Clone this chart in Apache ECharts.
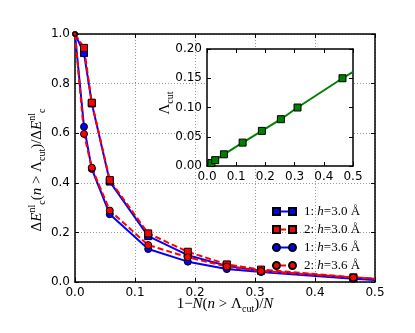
<!DOCTYPE html>
<html>
<head>
<meta charset="utf-8">
<script src="https://cdn.jsdelivr.net/npm/echarts@6/dist/echarts.min.js"></script>
<style>
html, body { margin: 0; padding: 0; background: #fff; }
#chart { width: 415px; height: 333px; }
</style>
</head>
<body>
<div id="chart"></div>
<script>
// 横轴: 1 - N(n > cut)/N
const xFrac = [0, 0.015, 0.028, 0.058, 0.122, 0.188, 0.253, 0.31, 0.464, 0.5]
const sq1 = [1.0, 0.923, 0.720, 0.405, 0.185, 0.108, 0.065, 0.045, 0.015, 0.010] // 1: h=3.0
const sq2 = [1.0, 0.944, 0.723, 0.411, 0.196, 0.122, 0.071, 0.050, 0.019, 0.014] // 2: h=3.0
const ci1 = [1.0, 0.626, 0.456, 0.273, 0.133, 0.082, 0.052, 0.040, 0.013, 0.008] // 1: h=3.6
const ci2 = [1.0, 0.597, 0.461, 0.288, 0.149, 0.100, 0.062, 0.044, 0.018, 0.013] // 2: h=3.6
const seriesNames = ['1: h=3.0 Å', '2: h=3.0 Å', '1: h=3.6 Å', '2: h=3.6 Å']

// 插图: Lambda_cut
const insetX = [0.015, 0.028, 0.058, 0.122, 0.188, 0.253, 0.31, 0.464, 0.5]
const lambdaCut = [0.005, 0.010, 0.020, 0.040, 0.060, 0.080, 0.100, 0.150, 0.161]

const mainXLabels = ['0.0', '0.1', '0.2', '0.3', '0.4', '0.5']
const mainYLabels = ['0.0', '0.2', '0.4', '0.6', '0.8', '1.0']
const insetXLabels = ['0.0', '0.1', '0.2', '0.3', '0.4', '0.5']
const insetYLabels = ['0.00', '0.05', '0.10', '0.15', '0.20']

const BLUE = '#0000ff'
const RED = '#ff0000'
const GREEN = '#008000'
const tickFont = { fontFamily: 'DejaVu Sans', fontSize: 12, color: '#000' }
const mathRich = {
  m: { fontFamily: 'Liberation Serif', fontSize: 15, lineHeight: 20, color: '#000' },
  i: { fontFamily: 'Liberation Serif', fontStyle: 'italic', fontSize: 15, lineHeight: 20, color: '#000' },
  sup: { fontFamily: 'Liberation Serif', fontSize: 10, lineHeight: 10, verticalAlign: 'top', color: '#000' },
  sub: { fontFamily: 'Liberation Serif', fontSize: 10, lineHeight: 10, verticalAlign: 'bottom', color: '#000' }
}

function symSize(v) { // 端点: 0处被裁剪, 0.5处不画
  if (v[0] === 0) return 4
  if (v[0] >= 0.5) return 0
  return 7
}

function mainSeries(name, ys, color, symbol, dashed) {
  return {
    type: 'line',
    name: name,
    xAxisIndex: 0,
    yAxisIndex: 0,
    data: xFrac.map((x, i) => [x, ys[i]]),
    symbol: symbol,
    symbolSize: symSize,
    showAllSymbol: true,
    silent: true,
    itemStyle: { color: color, borderColor: '#000', borderWidth: 1 },
    lineStyle: { color: color, width: 2, type: dashed ? [6, 3] : 'solid' },
    z: 2
  }
}

function axisCommon(min, max, interval, labels, show, step) {
  return {
    type: 'value',
    min: min,
    max: max,
    interval: interval,
    axisLine: { show: true, onZero: false, lineStyle: { color: '#000', width: 1.5 } },
    axisTick: { show: true, inside: true, length: 4, lineStyle: { color: '#000', width: 1 } },
    axisLabel: show ? Object.assign({ margin: 5, formatter: v => labels[Math.round(v / step)] }, tickFont) : { show: false },
    splitLine: { show: false }
  }
}

const circlePath = 'path://M0,3.5a3.5,3.5 0 1,0 7,0a3.5,3.5 0 1,0 -7,0zM16,3.5a3.5,3.5 0 1,0 7,0a3.5,3.5 0 1,0 -7,0z'
const squarePath = 'path://M0,0h7v7h-7zM16,0h7v7h-7z'
const solidPath = 'path://M0,0L0,0ZM23,7L23,7ZM0,2.5h23v2h-23z'
const dashPath = 'path://M0,0L0,0ZM23,7L23,7ZM0,2.5h5v2h-5zM9,2.5h5v2h-5zM18,2.5h5v2h-5z'

function legendText(name) {
  const p = name.split('h')
  return '{t|' + p[0] + '}{i|h}{t|' + p[1] + '}'
}
function legendBase(textColor) {
  return {
    orient: 'vertical',
    left: 272,
    top: 205,
    padding: 0,
    itemWidth: 23,
    itemHeight: 7,
    itemGap: 5,
    selectedMode: false,
    formatter: legendText,
    textStyle: {
      color: textColor,
      padding: [0, 0, 0, 3],
      rich: {
        t: { fontFamily: 'Liberation Serif', fontSize: 13, lineHeight: 14, color: textColor },
        i: { fontFamily: 'Liberation Serif', fontStyle: 'italic', fontSize: 13, lineHeight: 14, color: textColor }
      }
    }
  }
}

const chart = echarts.init(document.getElementById('chart'))

const legendLines = Object.assign(legendBase('rgba(0,0,0,0)'), {
  itemStyle: { borderWidth: 0 },
  data: [
    { name: seriesNames[0], icon: solidPath },
    { name: seriesNames[1], icon: dashPath },
    { name: seriesNames[2], icon: solidPath },
    { name: seriesNames[3], icon: dashPath }
  ],
  z: 5
})
const legendMarks = Object.assign(legendBase('#000'), {
  data: [
    { name: seriesNames[0], icon: squarePath },
    { name: seriesNames[1], icon: squarePath },
    { name: seriesNames[2], icon: circlePath },
    { name: seriesNames[3], icon: circlePath }
  ],
  z: 6
})

const option = {
  animation: false,
  backgroundColor: '#fff',
  grid: [
    { left: 75, top: 34, width: 300, height: 248, show: false },
    { left: 207, top: 49, width: 146, height: 117, show: true, backgroundColor: '#fff', borderWidth: 0, z: 3 }
  ],
  xAxis: [
    Object.assign(axisCommon(0, 0.5, 0.1, mainXLabels, true, 0.1), {
      gridIndex: 0, position: 'bottom',
      splitLine: { show: true, lineStyle: { color: '#999', type: [1, 2], width: 1 } }
    }),
    Object.assign(axisCommon(0, 0.5, 0.1, null, false), { gridIndex: 0, position: 'top' }),
    Object.assign(axisCommon(0, 0.5, 0.1, insetXLabels, true, 0.1), { gridIndex: 1, position: 'bottom', z: 4 }),
    Object.assign(axisCommon(0, 0.5, 0.1, null, false), { gridIndex: 1, position: 'top', z: 4 })
  ],
  yAxis: [
    Object.assign(axisCommon(0, 1.0, 0.2, mainYLabels, true, 0.2), {
      gridIndex: 0, position: 'left',
      splitLine: { show: true, lineStyle: { color: '#999', type: [1, 2], width: 1 } }
    }),
    Object.assign(axisCommon(0, 1.0, 0.2, null, false), { gridIndex: 0, position: 'right' }),
    Object.assign(axisCommon(0, 0.2, 0.05, insetYLabels, true, 0.05), { gridIndex: 1, position: 'left', z: 4 }),
    Object.assign(axisCommon(0, 0.2, 0.05, null, false), { gridIndex: 1, position: 'right', z: 4 })
  ],
  legend: [legendLines, legendMarks],
  series: [
    mainSeries(seriesNames[0], sq1, BLUE, 'rect', false),
    mainSeries(seriesNames[1], sq2, RED, 'rect', true),
    mainSeries(seriesNames[2], ci1, BLUE, 'circle', false),
    mainSeries(seriesNames[3], ci2, RED, 'circle', true),
    {
      type: 'line',
      name: 'lambda',
      xAxisIndex: 2,
      yAxisIndex: 2,
      data: insetX.map((x, i) => [x, lambdaCut[i]]),
      symbol: 'rect',
      symbolSize: symSize,
      showAllSymbol: true,
      silent: true,
      itemStyle: { color: GREEN, borderColor: '#000', borderWidth: 1 },
      lineStyle: { color: GREEN, width: 2 },
      z: 5
    }
  ],
  graphic: [
    { // y轴标题
      type: 'text', x: 37, y: 170, rotation: Math.PI / 2,
      style: {
        text: '{m|Δ}{i|E}{sup|nl}{sub|c}{m|(}{i|n}{m| > Λ}{sub|cut}{m|)/Δ}{i|E}{sup|nl}{sub|c}',
        rich: mathRich, align: 'center', verticalAlign: 'middle'
      }
    },
    { // x轴标题
      type: 'text', x: 225, y: 304,
      style: {
        text: '{m|1−}{i|N}{m|(}{i|n}{m| > Λ}{sub|cut}{m|)/}{i|N}',
        rich: mathRich, align: 'center', verticalAlign: 'middle'
      }
    },
    { // 插图y轴标题
      type: 'text', x: 165, y: 103, rotation: Math.PI / 2, z: 10,
      style: {
        text: '{m|Λ}{sub|cut}',
        rich: mathRich, align: 'center', verticalAlign: 'middle'
      }
    }
  ]
}

chart.setOption(option)
</script>
</body>
</html>
